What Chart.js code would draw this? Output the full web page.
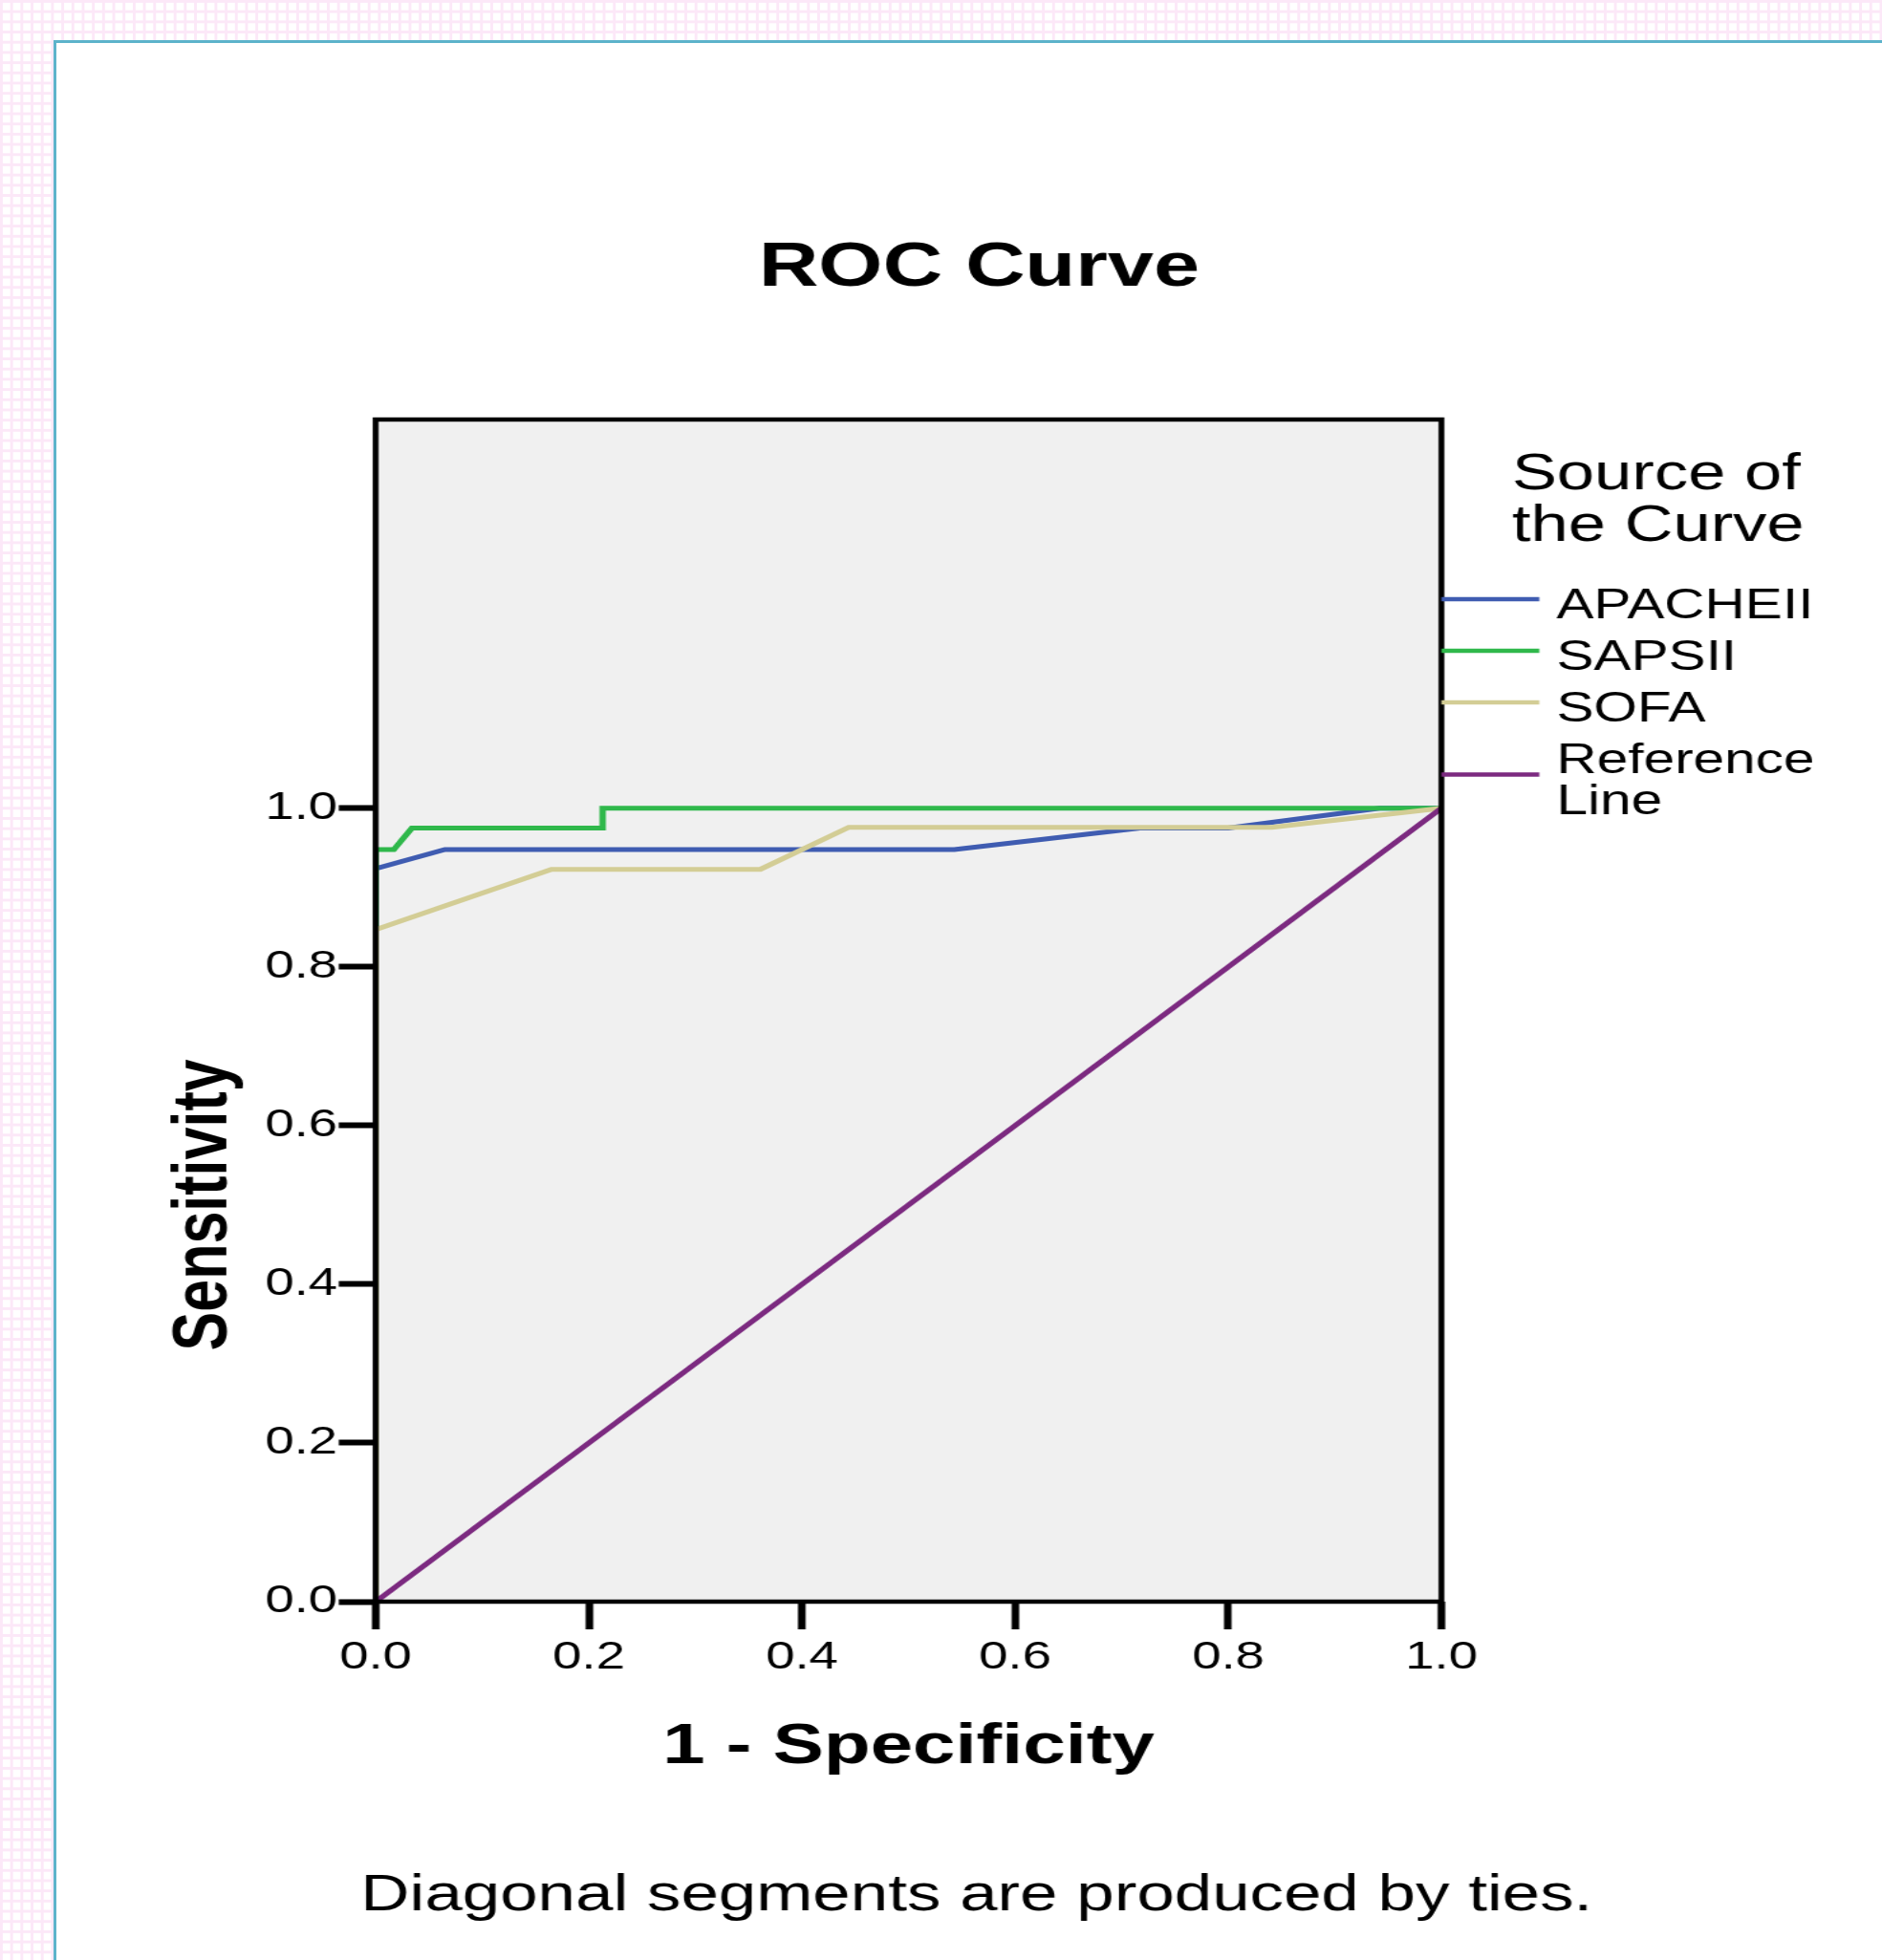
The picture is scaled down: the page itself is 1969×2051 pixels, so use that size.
<!DOCTYPE html>
<html>
<head>
<meta charset="utf-8">
<script src="https://cdn.jsdelivr.net/npm/chart.js@4.4.1/dist/chart.umd.min.js"></script>
<style>
  html, body { margin: 0; padding: 0; }
  body {
    width: 1969px; height: 2051px; overflow: hidden; position: relative;
    background-color: #fff;
    background-image: linear-gradient(to right, #fce8f8 3px, transparent 3px),
                      linear-gradient(to bottom, #fce8f8 3px, transparent 3px);
    background-size: 10.7px 10.7px;
  }
  #panel {
    position: absolute; left: 56px; top: 42px; width: 2000px; height: 2100px;
    background: #fff; border-left: 3px solid #5db3cb; border-top: 3px solid #5db3cb;
  }
  #roc { position: absolute; left: 0; top: 0; }
</style>
</head>
<body>
<div id="panel"></div>
<!-- the original picture is stretched sideways, so the canvas is drawn narrow and widened by css -->
<canvas id="roc" width="1480" height="2051" style="width:1969px;height:2051px"></canvas>
<script>
// data
const seriesNames = ['APACHEII', 'SAPSII', 'SOFA', 'Reference Line'];
const seriesColors = ['#3f5cb1', '#2fb84b', '#d3cd95', '#7c2a80'];

const apacheX = [0, 0, 0.065, 0.543, 0.717, 0.80, 0.942, 1];
const apacheY = [0, 0.924, 0.948, 0.948, 0.975, 0.975, 1, 1];

const sapsX = [0, 0, 0.017, 0.034, 0.213, 0.213, 1];
const sapsY = [0, 0.948, 0.948, 0.975, 0.975, 1, 1];

const sofaX = [0, 0, 0.165, 0.361, 0.444, 0.841, 1];
const sofaY = [0, 0.847, 0.923, 0.923, 0.976, 0.976, 1];

const refX = [0, 1];
const refY = [0, 1];

const xTickValues = [0, 0.2, 0.4, 0.6, 0.8, 1.0];
const xTickLabels = ['0.0', '0.2', '0.4', '0.6', '0.8', '1.0'];
const yTickValues = [0, 0.2, 0.4, 0.6, 0.8, 1.0];
const yTickLabels = ['0.0', '0.2', '0.4', '0.6', '0.8', '1.0'];

const FONT = "'Liberation Sans', Arial, sans-serif";

function pts(xs, ys) {
  return xs.map((x, i) => ({ x: x, y: ys[i] }));
}

const allX = [apacheX, sapsX, sofaX, refX];
const allY = [apacheY, sapsY, sofaY, refY];

const datasets = seriesNames.map((name, i) => ({
  label: name,
  data: pts(allX[i], allY[i]),
  borderColor: seriesColors[i],
  borderWidth: 5,
  pointRadius: 0,
  showLine: true,
  fill: false,
  tension: 0,
  order: 3 - i
}));

const decor = {
  id: 'decor',
  beforeDraw(chart) {
    const { ctx, chartArea: a } = chart;
    ctx.save();
    ctx.fillStyle = '#f0f0f0';
    ctx.fillRect(a.left, a.top, a.right - a.left, a.bottom - a.top);
    ctx.restore();
  },
  afterDatasetsDraw(chart) {
    const { ctx, chartArea: a } = chart;
    ctx.save();
    ctx.strokeStyle = '#000';
    ctx.lineWidth = 4.5;
    ctx.strokeRect(a.left, a.top, a.right - a.left, a.bottom - a.top);
    ctx.restore();
  },
  afterDraw(chart) {
    const { ctx, chartArea: a } = chart;
    const ys = chart.scales.y;
    ctx.save();
    ctx.fillStyle = '#000';

    // title
    ctx.font = 'bold 65px ' + FONT;
    ctx.textAlign = 'center';
    ctx.textBaseline = 'alphabetic';
    ctx.fillText('ROC Curve', 770, 299);

    // footnote
    ctx.font = '53.3px ' + FONT;
    ctx.fillText('Diagonal segments are produced by ties.', 768, 1999);

    // y axis title, centred on the 0..1 range
    ctx.save();
    ctx.translate(178, ys.getPixelForValue(0.5));
    ctx.rotate(-Math.PI / 2);
    ctx.font = 'bold 61px ' + FONT;
    ctx.textAlign = 'center';
    ctx.fillText('Sensitivity', 0, 0);
    ctx.restore();

    // legend
    ctx.textAlign = 'left';
    ctx.font = '53px ' + FONT;
    ctx.fillText('Source of', 1189, 512);
    ctx.fillText('the Curve', 1189, 566);

    ctx.font = '44px ' + FONT;
    let base = 647;
    chart.data.datasets.forEach((ds) => {
      const lines = ds.label.split(' ');
      const last = base + (lines.length - 1) * 43;
      const sy = (base + last) / 2 - 20;
      ctx.strokeStyle = ds.borderColor;
      ctx.lineWidth = 4.5;
      ctx.beginPath();
      ctx.moveTo(a.right, sy);
      ctx.lineTo(a.right + 77, sy);
      ctx.stroke();
      lines.forEach((t, k) => ctx.fillText(t, 1224, base + k * 43));
      base = last + 54;
    });
    ctx.restore();
  }
};

new Chart(document.getElementById('roc'), {
  type: 'scatter',
  data: { datasets: datasets },
  plugins: [decor],
  options: {
    responsive: false,
    animation: false,
    devicePixelRatio: 1,
    layout: { padding: { left: 0, right: 0, top: 0, bottom: 187 } },
    plugins: {
      legend: { display: false },
      title: { display: false },
      tooltip: { enabled: false }
    },
    scales: {
      x: {
        type: 'linear', position: 'bottom', min: 0, max: 1,
        afterBuildTicks: s => { s.ticks = xTickValues.map(v => ({ value: v })); },
        afterFit: s => { s.height = 188; },
        ticks: {
          callback: (v, i) => xTickLabels[i],
          font: { family: FONT, size: 41 }, color: '#000',
          padding: 5, maxRotation: 0, autoSkip: false
        },
        grid: { drawOnChartArea: false, drawTicks: true, tickLength: 29, tickWidth: 6, tickColor: '#000' },
        border: { display: false },
        title: {
          display: true, text: '1 - Specificity', color: '#000', padding: 0,
          font: { family: FONT, size: 60, weight: 'bold' }
        }
      },
      y: {
        type: 'linear', position: 'left', min: 0, max: 1.49,
        afterBuildTicks: s => { s.ticks = yTickValues.map(v => ({ value: v })); },
        afterFit: s => { s.width = 295.4; },
        ticks: {
          callback: (v, i) => yTickLabels[i],
          font: { family: FONT, size: 41 }, color: '#000', padding: 1
        },
        grid: { drawOnChartArea: false, drawTicks: true, tickLength: 29, tickWidth: 6, tickColor: '#000' },
        border: { display: false }
      },
      // empty boxes that hold the space above and right of the plot
      top: {
        type: 'linear', position: 'top', display: true,
        afterFit: s => { s.height = 439; },
        ticks: { display: false }, grid: { display: false }, border: { display: false }
      },
      side: {
        type: 'linear', position: 'right', display: true,
        afterFit: s => { s.width = 346.5; },
        ticks: { display: false }, grid: { display: false }, border: { display: false }
      }
    }
  }
});
</script>
</body>
</html>
